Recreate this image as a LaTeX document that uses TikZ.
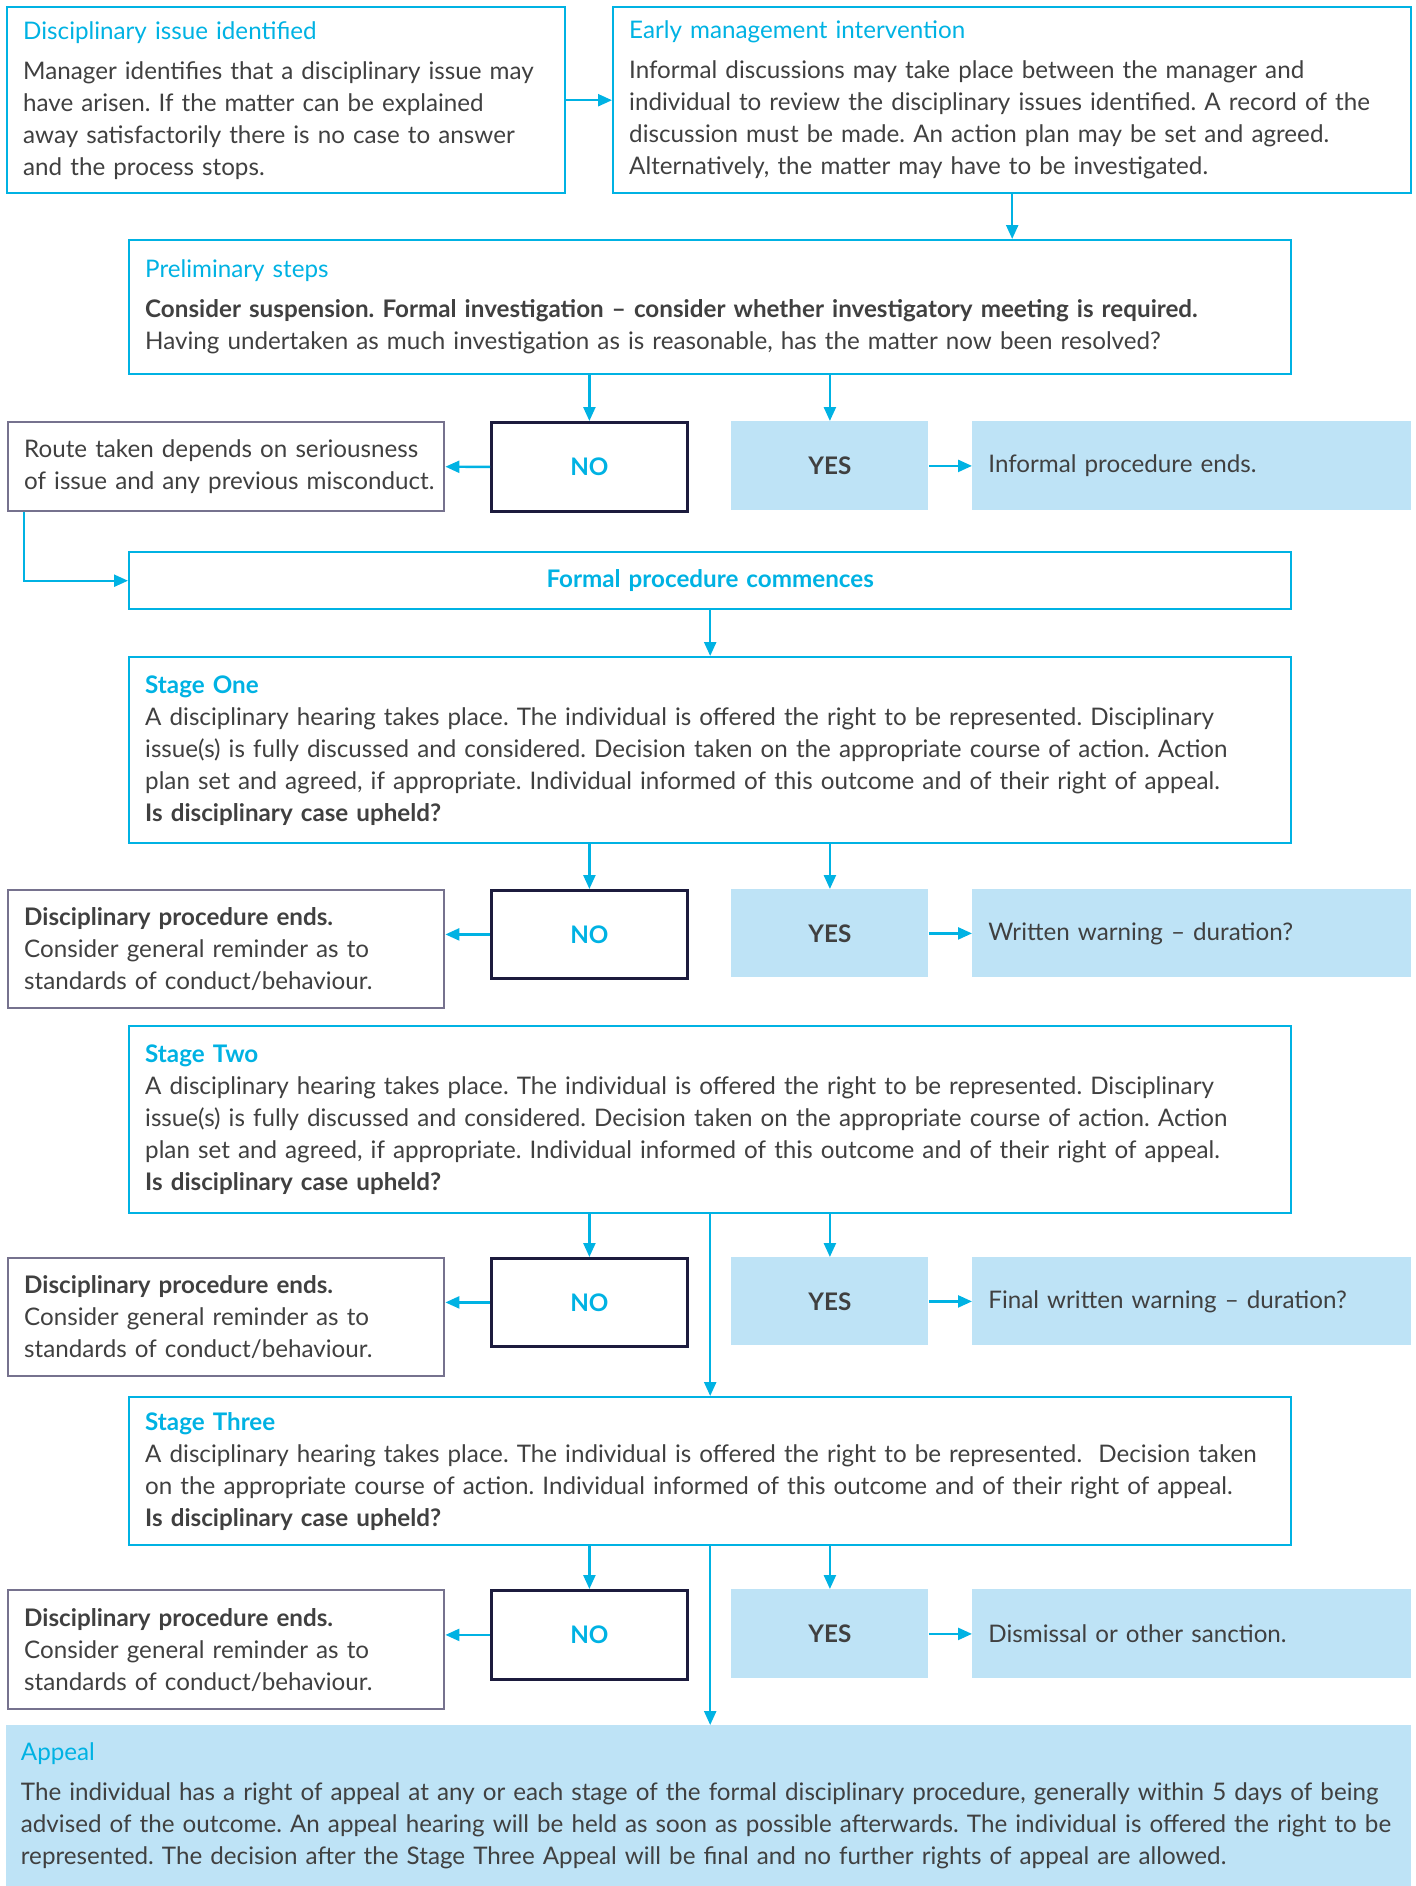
\documentclass[tikz,border=0pt]{standalone}
\usepackage{fontspec}
\setmainfont{Lato}
\frenchspacing
\usetikzlibrary{arrows.meta}
\definecolor{FlowCyan}{RGB}{0,178,227}
\definecolor{PaleBlue}{RGB}{190,227,246}
\definecolor{DarkNavy}{RGB}{28,27,61}
\definecolor{SlateGrey}{RGB}{118,114,142}
\definecolor{BodyGrey}{RGB}{64,64,64}

\begin{document}
\begin{tikzpicture}[x=0.5pt,y=0.5pt,yscale=-1,
	every node/.style={anchor=north west, inner xsep=8pt, inner ysep=0pt, align=left, text=BodyGrey, font=\fontsize{12.1pt}{16pt}\selectfont},
	outlinebox/.style={draw=FlowCyan, line width=1.2pt},
	greybox/.style={draw=SlateGrey, line width=1.2pt},
	nobox/.style={draw=DarkNavy, line width=1.4pt, align=center, text=FlowCyan, font=\fontsize{12.1pt}{16pt}\selectfont\bfseries},
	yesbox/.style={fill=PaleBlue, align=center, font=\fontsize{12.1pt}{16pt}\selectfont\bfseries},
	shadebox/.style={fill=PaleBlue},
	flow/.style={draw=FlowCyan, line width=1.2pt, -{Triangle[length=7pt,width=6pt]}}
	]
	\useasboundingbox (0,0) rectangle (1416,1886);

	% Top row
	\node (issue) [outlinebox, minimum width=279pt, minimum height=93pt, text width=263pt] at (6,6) {\textcolor{FlowCyan}{Disciplinary issue identified}\\[4pt]
		Manager identifies that a disciplinary issue may\\
		have arisen. If the matter can be explained\\
		away satisfactorily there is no case to answer\\
		and the process stops.};
	\node (early) [outlinebox, minimum width=399pt, minimum height=93pt, text width=383pt] at (612,6) {\textcolor{FlowCyan}{Early management intervention}\\[4pt]
		Informal discussions may take place between the manager and\\
		individual to review the disciplinary issues identified. A record of the\\
		discussion must be made. An action plan may be set and agreed.\\
		Alternatively, the matter may have to be investigated.};

	% Preliminary steps
	\node (prelim) [outlinebox, minimum width=581pt, minimum height=67pt, text width=565pt] at (128,239) {\textcolor{FlowCyan}{Preliminary steps}\\[4pt]
		\textbf{Consider suspension. Formal investigation -- consider whether investigatory meeting is required.}\\
		Having undertaken as much investigation as is reasonable, has the matter now been resolved?};
	\node (route) [greybox, minimum width=218pt, minimum height=44.5pt, text width=202pt] at (7,421) {Route taken depends on seriousness\\
		\mbox{of issue and any previous misconduct.}};
	\node (no1) [nobox, minimum width=98pt, minimum height=44.5pt] at (490,421) {NO};
	\node (yes1) [yesbox, minimum width=98.5pt, minimum height=44.5pt] at (731,421) {YES};
	\node (informal) [shadebox, minimum width=219.5pt, minimum height=44.5pt, text width=203.5pt] at (972,421) {Informal procedure ends.};

	% Formal procedure
	\node (formal) [outlinebox, minimum width=581pt, minimum height=28.5pt, text width=565pt, align=center, text=FlowCyan, font=\fontsize{12.1pt}{16pt}\selectfont\bfseries] at (128,551) {Formal procedure commences};

	% Stage One
	\node (stage1) [outlinebox, minimum width=581pt, minimum height=93pt, text width=565pt] at (128,656) {\textcolor{FlowCyan}{\textbf{Stage One}}\\
		A disciplinary hearing takes place. The individual is offered the right to be represented. Disciplinary\\
		issue(s) is fully discussed and considered. Decision taken on the appropriate course of action. Action\\
		plan set and agreed, if appropriate. Individual informed of this outcome and of their right of appeal.\\
		\textbf{Is disciplinary case upheld?}};
	\node (ends2) [greybox, minimum width=218pt, minimum height=59pt, text width=202pt] at (7,889) {\textbf{Disciplinary procedure ends.}\\
		Consider general reminder as to\\
		standards of conduct/behaviour.};
	\node (no2) [nobox, minimum width=98pt, minimum height=44pt] at (490,889) {NO};
	\node (yes2) [yesbox, minimum width=98.5pt, minimum height=44pt] at (731,889) {YES};
	\node (written) [shadebox, minimum width=219.5pt, minimum height=44pt, text width=203.5pt] at (972,889) {Written warning -- duration?};

	% Stage Two
	\node (stage2) [outlinebox, minimum width=581pt, minimum height=93.5pt, text width=565pt] at (128,1025) {\textcolor{FlowCyan}{\textbf{Stage Two}}\\
		A disciplinary hearing takes place. The individual is offered the right to be represented. Disciplinary\\
		issue(s) is fully discussed and considered. Decision taken on the appropriate course of action. Action\\
		plan set and agreed, if appropriate. Individual informed of this outcome and of their right of appeal.\\
		\textbf{Is disciplinary case upheld?}};
	\node (ends3) [greybox, minimum width=218pt, minimum height=59pt, text width=202pt] at (7,1257) {\textbf{Disciplinary procedure ends.}\\
		Consider general reminder as to\\
		standards of conduct/behaviour.};
	\node (no3) [nobox, minimum width=98pt, minimum height=44pt] at (490,1257) {NO};
	\node (yes3) [yesbox, minimum width=98.5pt, minimum height=44pt] at (731,1257) {YES};
	\node (final) [shadebox, minimum width=219.5pt, minimum height=44pt, text width=203.5pt] at (972,1257) {Final written warning -- duration?};

	% Stage Three
	\node (stage3) [outlinebox, minimum width=581pt, minimum height=74pt, text width=565pt] at (128,1396) {\textcolor{FlowCyan}{\textbf{Stage Three}}\\
		A disciplinary hearing takes place. The individual is offered the right to be represented.\ \ Decision taken\\
		on the appropriate course of action. Individual informed of this outcome and of their right of appeal.\\
		\textbf{Is disciplinary case upheld?}};
	\node (ends4) [greybox, minimum width=218pt, minimum height=59.5pt, text width=202pt] at (7,1589) {\textbf{Disciplinary procedure ends.}\\
		Consider general reminder as to\\
		standards of conduct/behaviour.};
	\node (no4) [nobox, minimum width=98pt, minimum height=44.5pt] at (490,1589) {NO};
	\node (yes4) [yesbox, minimum width=98.5pt, minimum height=44.5pt] at (731,1589) {YES};
	\node (dismissal) [shadebox, minimum width=219.5pt, minimum height=44.5pt, text width=203.5pt] at (972,1589) {Dismissal or other sanction.};

	% Appeal
	\node (appeal) [shadebox, minimum width=702.5pt, minimum height=80.5pt, text width=688pt, inner xsep=7pt] at (6,1725) {\textcolor{FlowCyan}{Appeal}\\[4pt]
		The individual has a right of appeal at any or each stage of the formal disciplinary procedure, generally within 5 days of being\\
		advised of the outcome. An appeal hearing will be held as soon as possible afterwards. The individual is offered the right to be\\
		represented. The decision after the Stage Three Appeal will be final and no further rights of appeal are allowed.};

	% Connectors
	\draw [flow] (issue.east) -- (early.west);
	\draw [flow] (early.south) -- (early.south |- prelim.north);
	\draw [flow] (prelim.south -| no1.north) -- (no1.north);
	\draw [flow] (prelim.south -| yes1.north) -- (yes1.north);
	\draw [flow] (no1.west) -- (route.east);
	\draw [flow] (yes1.east) -- (informal.west);
	\draw [flow] ([xshift=8.5pt]route.south west) |- (formal.west);
	\draw [flow] (formal.south) -- (stage1.north);

	\draw [flow] (stage1.south -| no2.north) -- (no2.north);
	\draw [flow] (stage1.south -| yes2.north) -- (yes2.north);
	\draw [flow] (no2.west) -- (no2.west -| ends2.east);
	\draw [flow] (yes2.east) -- (written.west);

	\draw [flow] (stage2.south -| no3.north) -- (no3.north);
	\draw [flow] (stage2.south -| yes3.north) -- (yes3.north);
	\draw [flow] (no3.west) -- (no3.west -| ends3.east);
	\draw [flow] (yes3.east) -- (final.west);
	\draw [flow] (stage2.south) -- (stage3.north);

	\draw [flow] (stage3.south -| no4.north) -- (no4.north);
	\draw [flow] (stage3.south -| yes4.north) -- (yes4.north);
	\draw [flow] (no4.west) -- (no4.west -| ends4.east);
	\draw [flow] (yes4.east) -- (dismissal.west);
	\draw [flow] (stage3.south) -- (stage3.south |- appeal.north);
\end{tikzpicture}
\end{document}
